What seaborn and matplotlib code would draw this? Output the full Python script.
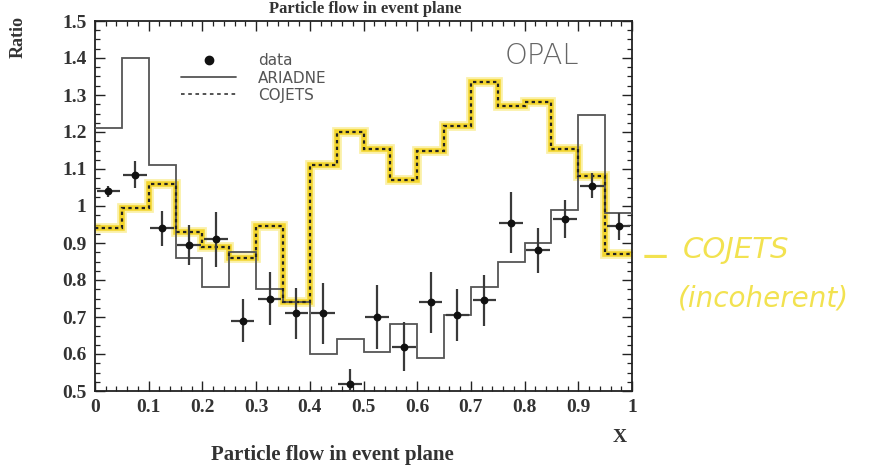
import numpy as np
import matplotlib
matplotlib.use("Agg")
import matplotlib.pyplot as plt
from matplotlib.ticker import MultipleLocator, FixedLocator
from matplotlib.lines import Line2D
import seaborn as sns
import pandas as pd

# ---- data ----
bin_edges = [0.0, 0.05, 0.10, 0.15, 0.20, 0.25, 0.30, 0.35, 0.40, 0.45, 0.50,
             0.55, 0.60, 0.65, 0.70, 0.75, 0.80, 0.85, 0.90, 0.95, 1.00]
ariadne = [1.21, 1.40, 1.11, 0.86, 0.78, 0.875, 0.775, 0.74, 0.60, 0.64,
           0.605, 0.68, 0.59, 0.705, 0.78, 0.85, 0.90, 0.99, 1.245, 0.98]
cojets = [0.94, 0.995, 1.06, 0.93, 0.89, 0.86, 0.945, 0.74, 1.11, 1.20,
          1.155, 1.07, 1.15, 1.215, 1.335, 1.27, 1.28, 1.155, 1.08, 0.87]
data_x = [0.025, 0.075, 0.125, 0.175, 0.225, 0.275, 0.325, 0.375, 0.425, 0.475,
          0.525, 0.575, 0.625, 0.675, 0.725, 0.775, 0.825, 0.875, 0.925, 0.975]
data_y = [1.04, 1.085, 0.94, 0.895, 0.91, 0.69, 0.75, 0.71, 0.71, 0.52,
          0.70, 0.62, 0.74, 0.705, 0.745, 0.955, 0.88, 0.965, 1.055, 0.945]
data_err = [0.015, 0.036, 0.047, 0.055, 0.075, 0.058, 0.071, 0.069, 0.082, 0.04,
            0.087, 0.067, 0.082, 0.07, 0.069, 0.082, 0.06, 0.051, 0.033, 0.036]
x_ticks = [0.0, 0.1, 0.2, 0.3, 0.4, 0.5, 0.6, 0.7, 0.8, 0.9, 1.0]
x_tick_labels = ["0", "0.1", "0.2", "0.3", "0.4", "0.5", "0.6", "0.7", "0.8", "0.9", "1"]
y_ticks = [0.5, 0.6, 0.7, 0.8, 0.9, 1.0, 1.1, 1.2, 1.3, 1.4, 1.5]
y_tick_labels = ["0.5", "0.6", "0.7", "0.8", "0.9", "1", "1.1", "1.2", "1.3", "1.4", "1.5"]

sns.set_theme(style="ticks")
plt.rcParams["font.family"] = ["Liberation Serif", "DejaVu Serif"]

W, H = 881, 470
fig = plt.figure(figsize=(W / 100, H / 100), dpi=100)
ax = fig.add_axes([95 / W, 1 - 391 / H, 537 / W, 370 / H])

# ARIADNE (solid grey)
ax.stairs(ariadne, bin_edges, baseline=None, color="#555555", lw=1.3, zorder=3)
# COJETS (yellow highlight + black dotted)
ax.stairs(cojets, bin_edges, baseline=None, color="#f7de3a", lw=7, alpha=0.45, zorder=2)
ax.stairs(cojets, bin_edges, baseline=None, color="#f2cf10", lw=4, alpha=0.8, zorder=2)
ax.stairs(cojets, bin_edges, baseline=None, color="#222222", lw=1.6,
          linestyle=(0, (1.5, 1.5)), zorder=4)

# data points with error bars
df = pd.DataFrame({"x": data_x, "y": data_y, "err": data_err})
ax.errorbar(df["x"], df["y"], yerr=df["err"], xerr=0.022, fmt="none",
            ecolor="#3a3a3a", elinewidth=1.6, capsize=0, zorder=5)
sns.scatterplot(data=df, x="x", y="y", ax=ax, color="#111111", s=32,
                marker="o", edgecolor="#111111", linewidth=0, zorder=6, legend=False)

ax.set_xlim(0, 1)
ax.set_ylim(0.5, 1.5)
ax.xaxis.set_major_locator(FixedLocator(x_ticks))
ax.yaxis.set_major_locator(FixedLocator(y_ticks))
ax.set_xticklabels(x_tick_labels)
ax.set_yticklabels(y_tick_labels)
ax.xaxis.set_minor_locator(MultipleLocator(0.02))
ax.yaxis.set_minor_locator(MultipleLocator(0.025))
ax.tick_params(which="both", direction="in", top=True, right=True, color="#222222")
ax.tick_params(which="major", length=7, width=1.0, labelsize=14, pad=6)
ax.tick_params(which="minor", length=3.5, width=0.9)
for lab in ax.get_xticklabels() + ax.get_yticklabels():
    lab.set_fontweight("bold")
    lab.set_color("#333333")
for sp in ax.spines.values():
    sp.set_linewidth(1.3)
    sp.set_color("#222222")
ax.set_xlabel("")
ax.set_ylabel("")

# legend
handles = [
    Line2D([], [], marker="o", color="#111111", linestyle="none", markersize=6),
    Line2D([], [], color="#555555", lw=1.3),
    Line2D([], [], color="#444444", lw=1.3, linestyle=(0, (2, 2))),
]
leg = ax.legend(handles, ["data", "ARIADNE", "COJETS"], loc="upper left",
                bbox_to_anchor=(0.135, 0.95), frameon=False, handlelength=3.6,
                handletextpad=1.4, labelspacing=0.15,
                prop={"family": "DejaVu Sans", "size": 11})
for t in leg.get_texts():
    t.set_color("#555555")

ax.text(0.762, 0.885, "OPAL", transform=ax.transAxes, fontsize=21,
        family="DejaVu Sans", color="#666666", fontweight="light")

# labels
fig.text(18 / W, 1 - 37 / H, "Ratio", rotation=90, ha="center", va="center",
         fontsize=13, fontweight="bold", color="#333333")
fig.text(332 / W, 1 - 455 / H, "Particle flow in event plane", ha="center",
         va="center", fontsize=15, fontweight="bold", color="#333333")
fig.text(620 / W, 1 - 437 / H, "X", ha="center", va="center",
         fontsize=14, fontweight="bold", color="#333333")
fig.text(365 / W, 1 - 1 / H, "Particle flow in event plane", ha="center",
         va="top", fontsize=12, fontweight="bold", color="#333333")

# handwritten annotation
yel = "#f2e250"
fig.text(643 / W, 1 - 256 / H, "\u2014", ha="left", va="center", fontsize=18,
         color=yel, family="DejaVu Sans", fontweight="bold")
fig.text(683 / W, 1 - 250 / H, "COJETS", ha="left", va="center", fontsize=21,
         color=yel, family="DejaVu Sans", style="italic")
fig.text(678 / W, 1 - 298 / H, "(incoherent)", ha="left", va="center", fontsize=20,
         color=yel, family="DejaVu Sans", style="italic")

fig.savefig("out.png", dpi=100)
